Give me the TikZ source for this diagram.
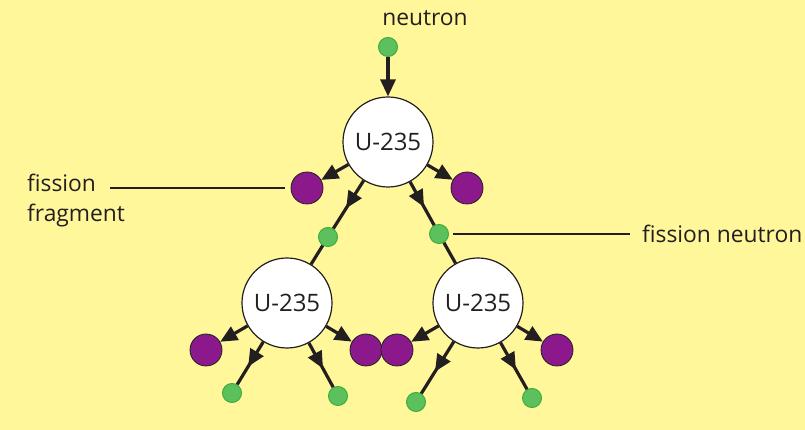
\documentclass[tikz,border=0pt]{standalone}
\usepackage{fontspec}
\setmainfont{Open Sans}
\usetikzlibrary{arrows.meta,decorations.markings}
\definecolor{paper}{HTML}{FFF799}
\definecolor{fragpurple}{HTML}{8C198C}
\definecolor{neutgreen}{HTML}{5CC05C}
\definecolor{neutedge}{HTML}{3DAE3D}
\definecolor{ink}{HTML}{231F20}
\begin{document}
\begin{tikzpicture}[x=1pt, y=1pt,
  nucleus/.style = {draw=ink, line width=1.2pt, circle, fill=white, minimum size=90pt, inner sep=0pt, text=ink, font=\fontsize{24}{26}\selectfont},
  frag/.style = {draw=ink, line width=0.8pt, circle, fill=fragpurple, minimum size=32pt, inner sep=0pt},
  neut/.style = {draw=neutedge, line width=1pt, circle, fill=neutgreen, minimum size=19pt, inner sep=0pt},
  lbl/.style = {font=\fontsize{22.8}{30}\selectfont, text=ink, inner sep=0pt},
  arr/.style = {draw=ink, line width=3.2pt, -{Triangle[length=17pt,width=15pt]}},
  midarr/.style = {draw=ink, line width=3.2pt, postaction={decorate},
    decoration={markings, mark=at position 0.58 with {\arrow{Triangle[length=17pt,width=15pt]}}}},
  pointer/.style = {draw=ink, line width=1.2pt}]
\fill[paper] (0,0) rectangle (805,430);
\useasboundingbox (0,0) rectangle (805,430);

% nuclei
\node[nucleus] (u1) at (388,288) {U-235};
\node[nucleus] (u2) at (287,127) {U-235};
\node[nucleus] (u3) at (478,127) {U-235};

% incoming neutron
\node[neut] (n0) at (388,383) {};
\node[lbl] (nlbl) at (425,412) {neutron};

% first fission
\node[frag] (f1) at (307,242) {};
\node[frag] (f2) at (467,242) {};
\node[neut] (n1) at (328,193) {};
\node[neut] (n2) at (439,196) {};

% second generation
\node[frag] (f3) at (206,80) {};
\node[frag] (f4) at (366,80) {};
\node[frag] (f5) at (397,80) {};
\node[frag] (f6) at (557,80) {};
\node[neut] (n3) at (232,37) {};
\node[neut] (n4) at (338,34) {};
\node[neut] (n5) at (416,28) {};
\node[neut] (n6) at (532,32) {};

% labels
\node[lbl, align=left, anchor=west] (fraglbl) at (27,229) {fission\\fragment};
\node[lbl, anchor=west] (neutlbl) at (642,196) {fission neutron};
\coordinate (fragend) at (110,242);

\draw[arr] (n0) -- (u1);
\draw[arr] (u1) -- (f1);
\draw[arr] (u1) -- (f2);
\draw[midarr] (u1) -- (n1);
\draw[midarr] (u1) -- (n2);
\draw[draw=ink, line width=3.2pt] (n1) -- (u2);
\draw[draw=ink, line width=3.2pt] (n2) -- (u3);

\draw[arr] (u2) -- (f3);
\draw[arr] (u2) -- (f4);
\draw[midarr] (u2) -- (n3);
\draw[midarr] (u2) -- (n4);
\draw[arr] (u3) -- (f5);
\draw[arr] (u3) -- (f6);
\draw[midarr] (u3) -- (n5);
\draw[midarr] (u3) -- (n6);

\draw[pointer] (fragend) -- ([xshift=-6pt]f1.west);
\draw[pointer] ([xshift=4pt]n2.east) -- ([xshift=-12pt]neutlbl.west);
\end{tikzpicture}
\end{document}
